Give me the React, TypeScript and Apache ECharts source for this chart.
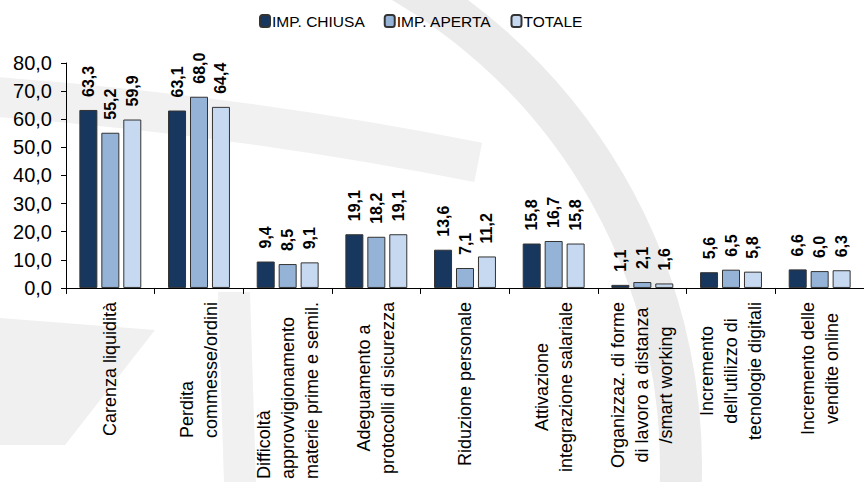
import React, { useEffect, useRef } from 'react';
import * as echarts from 'echarts';

const categories = [
  'Carenza liquidità',
  'Perdita\ncommesse/ordini',
  'Difficoltà\napprovvigionamento\nmaterie prime e semil.',
  'Adeguamento a\nprotocolli di sicurezza',
  'Riduzione personale',
  'Attivazione\nintegrazione salariale',
  'Organizzaz. di forme\ndi lavoro a distanza\n/smart working',
  "Incremento\ndell'utilizzo di\ntecnologie digitali",
  'Incremento delle\nvendite online',
];
const seriesNames = ['IMP. CHIUSA', 'IMP. APERTA', 'TOTALE'];
const impChiusa = [63.3, 63.1, 9.4, 19.1, 13.6, 15.8, 1.1, 5.6, 6.6];
const impAperta = [55.2, 68.0, 8.5, 18.2, 7.1, 16.7, 2.1, 6.5, 6.0];
const totale = [59.9, 64.4, 9.1, 19.1, 11.2, 15.8, 1.6, 5.8, 6.3];
const seriesColors = ['#17375E', '#95B3D7', '#C6D9F1'];
const yMin = 0;
const yMax = 80;
const yInterval = 10;
// categories whose wrapped lines start together (bottom-aligned when rotated)
const startAlignedCategories = [1, 2];

const fmt = (v: number) => v.toFixed(1).replace('.', ',');

export default function App() {
  const ref = useRef<HTMLDivElement>(null);
  useEffect(() => {
    if (!ref.current) return;
    const chart = echarts.init(ref.current, null, { renderer: 'svg' });
    const data = [impChiusa, impAperta, totale];
    const font = "'Liberation Sans', Arial, sans-serif";
    chart.setOption({
      animation: false,
      backgroundColor: '#ffffff',
      textStyle: { fontFamily: font },
      graphic: [
        {
          type: 'arc',
          z: -10,
          silent: true,
          shape: { cx: 121, cy: 466, r: 560, startAngle: -1.15, endAngle: 0.1, clockwise: true },
          style: { stroke: '#ebebeb', lineWidth: 42, fill: 'none' },
        },
        {
          type: 'arc',
          z: -10,
          silent: true,
          shape: { cx: -300, cy: 4086, r: 4000, startAngle: -1.53, endAngle: -1.375, clockwise: true },
          style: { stroke: '#f1f1f1', lineWidth: 40, fill: 'none' },
        },
        {
          type: 'polygon',
          z: -10,
          silent: true,
          shape: { points: [[0, 318], [155, 330], [65, 445], [0, 445]] },
          style: { fill: '#f0f0f0' },
        },
        {
          type: 'polygon',
          z: -10,
          silent: true,
          shape: { points: [[218, 292], [250, 292], [256, 482], [224, 482]] },
          style: { fill: '#f1f1f1' },
        },
      ],
      legend: {
        top: 8,
        left: 254,
        itemWidth: 10,
        itemHeight: 12,
        itemGap: 19,
        textStyle: {
          fontFamily: font,
          fontSize: 15.5,
          color: '#000',
          padding: [0, 0, 0, -3],
        },
        data: seriesNames,
      },
      grid: { left: 66, top: 63, bottom: 193, width: 805, containLabel: false },
      xAxis: {
        type: 'category',
        data: categories,
        axisLine: { lineStyle: { color: '#000', width: 1 } },
        axisTick: { show: true, length: 6, alignWithLabel: false, lineStyle: { color: '#000' } },
        axisLabel: {
          interval: 0,
          rotate: 90,
          margin: 14,
          color: '#000',
          fontSize: 18,
          lineHeight: 24,
          formatter: (v: string, idx: number) => {
            const st = startAlignedCategories.includes(idx) ? 'l' : 'c';
            return v.split('\n').map((l) => `{${st}|${l}}`).join('\n');
          },
          rich: {
            c: { align: 'center', fontSize: 18, lineHeight: 24, color: '#000' },
            l: { align: 'left', fontSize: 18, lineHeight: 24, color: '#000' },
          },
        },
      },
      yAxis: {
        type: 'value',
        min: yMin,
        max: yMax,
        interval: yInterval,
        axisLine: { show: true, lineStyle: { color: '#000', width: 1 } },
        axisTick: { show: true, length: 5, lineStyle: { color: '#000' } },
        splitLine: { show: false },
        axisLabel: {
          margin: 14,
          color: '#000',
          fontSize: 20,
          formatter: (v: number) => fmt(v),
        },
      },
      series: seriesNames.map((name, i) => ({
        name,
        type: 'bar',
        data: data[i],
        barWidth: 18,
        barGap: '22%',
        itemStyle: { color: seriesColors[i], borderColor: '#333', borderWidth: 1 },
        label: {
          show: true,
          position: 'top',
          rotate: 90,
          align: 'left',
          verticalAlign: 'middle',
          distance: 13,
          fontSize: 16,
          fontWeight: 'bold',
          color: '#000',
          formatter: (p: any) => fmt(p.value),
        },
      })),
    });
    return () => chart.dispose();
  }, []);
  return <div ref={ref} style={{ position: 'fixed', left: 0, top: 0, width: 864, height: 482 }} />;
}
